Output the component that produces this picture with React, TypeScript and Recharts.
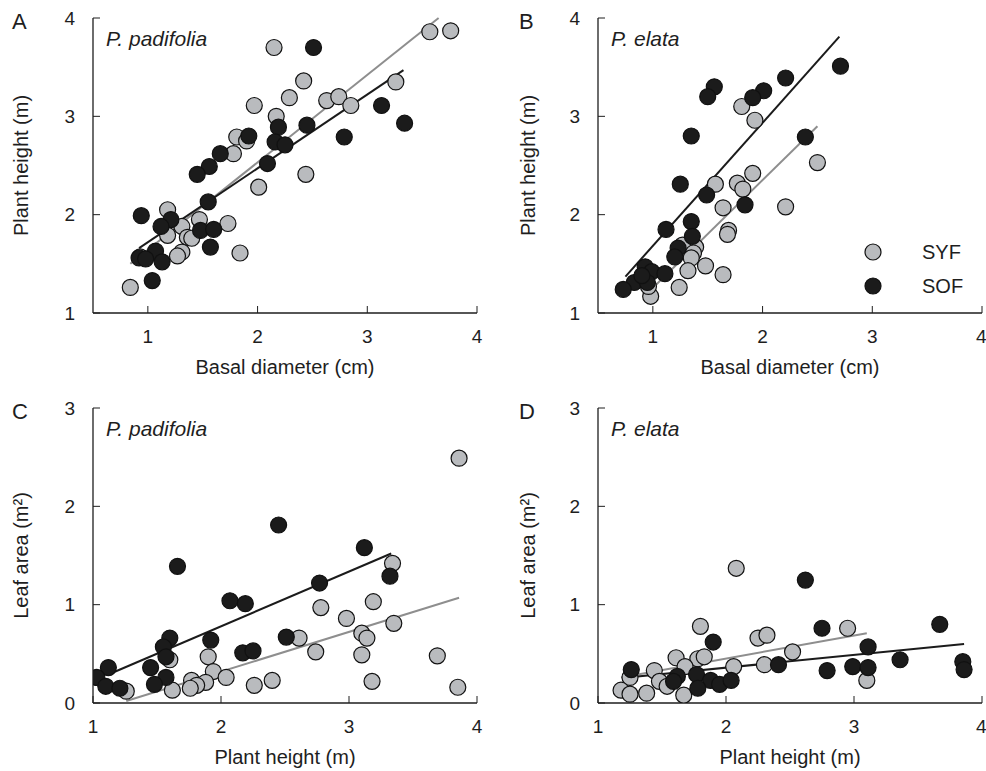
import React from "react"
import {
  ScatterChart,
  Scatter,
  XAxis,
  YAxis,
  ReferenceLine,
  Label,
  Legend,
} from "recharts"

type Pt = { x: number; y: number }
const pts = (rows: number[][]): Pt[] => rows.map(([x, y]) => ({ x, y }))

// A: P. padifolia, basal diameter (cm) vs plant height (m)
const padDiamSYF = pts([
  [2.15, 3.7], [2.42, 3.36], [2.29, 3.19], [1.97, 3.11], [2.17, 3.0], [2.63, 3.16],
  [2.74, 3.2], [2.85, 3.11], [3.26, 3.35], [3.57, 3.86], [3.76, 3.87], [1.81, 2.79],
  [1.9, 2.75], [1.78, 2.62], [2.44, 2.41], [2.01, 2.28], [1.18, 2.05], [1.47, 1.95],
  [1.73, 1.91], [1.31, 1.88], [1.18, 1.79], [1.36, 1.77], [1.4, 1.76], [1.31, 1.62],
  [1.27, 1.58], [1.84, 1.61], [0.84, 1.26], [0.93, 1.57],
])
const padDiamSOF = pts([
  [2.51, 3.7], [3.13, 3.11], [3.34, 2.93], [2.79, 2.79], [2.45, 2.91], [2.19, 2.89],
  [2.16, 2.74], [2.25, 2.71], [1.92, 2.8], [1.66, 2.62], [1.56, 2.49], [1.45, 2.41],
  [2.09, 2.52], [1.55, 2.13], [0.94, 1.99], [1.21, 1.95], [1.12, 1.88], [1.48, 1.84],
  [1.6, 1.85], [1.57, 1.67], [1.07, 1.63], [0.92, 1.56], [0.98, 1.55], [1.13, 1.52],
  [1.04, 1.33],
])
const padDiamFitSYF = pts([[0.84, 1.5], [3.65, 4.0]])
const padDiamFitSOF = pts([[0.92, 1.66], [3.33, 3.47]])

// B: P. elata, basal diameter (cm) vs plant height (m)
const elaDiamSYF = pts([
  [1.81, 3.1], [1.93, 2.96], [2.5, 2.53], [1.91, 2.42], [1.57, 2.31], [1.77, 2.32],
  [1.82, 2.26], [1.64, 2.07], [2.21, 2.08], [1.69, 1.84], [1.68, 1.8], [1.39, 1.67],
  [1.27, 1.69], [1.37, 1.61], [1.35, 1.56], [1.48, 1.48], [1.32, 1.43], [1.64, 1.39],
  [1.24, 1.26], [0.98, 1.17], [0.96, 1.27],
])
const elaDiamSOF = pts([
  [2.71, 3.51], [2.21, 3.39], [2.01, 3.26], [1.91, 3.19], [1.56, 3.3], [1.5, 3.2],
  [1.35, 2.8], [2.39, 2.79], [1.25, 2.31], [1.49, 2.2], [1.84, 2.1], [1.35, 1.93],
  [1.12, 1.85], [1.36, 1.78], [1.23, 1.66], [1.2, 1.57], [0.93, 1.47], [0.99, 1.42],
  [1.11, 1.4], [0.83, 1.31], [0.95, 1.31], [0.73, 1.24], [0.9, 1.38],
])
const elaDiamFitSYF = pts([[0.95, 1.2], [2.5, 2.9]])
const elaDiamFitSOF = pts([[0.75, 1.37], [2.7, 3.81]])

// C: P. padifolia, plant height (m) vs leaf area (m2)
const padLeafSYF = pts([
  [3.86, 2.49], [3.34, 1.42], [3.19, 1.03], [2.78, 0.97], [2.98, 0.86], [3.35, 0.81],
  [3.1, 0.71], [3.14, 0.66], [2.61, 0.66], [2.74, 0.52], [3.1, 0.49], [3.18, 0.22],
  [1.9, 0.47], [1.6, 0.44], [1.94, 0.32], [2.04, 0.26], [1.88, 0.21], [1.77, 0.23],
  [1.81, 0.18], [1.76, 0.15], [1.62, 0.13], [2.26, 0.18], [2.4, 0.23], [1.26, 0.12],
  [3.69, 0.48], [3.85, 0.16],
])
const padLeafSOF = pts([
  [2.45, 1.81], [3.12, 1.58], [1.66, 1.39], [2.77, 1.22], [3.32, 1.29], [2.07, 1.04],
  [2.19, 1.01], [1.92, 0.64], [2.51, 0.67], [2.17, 0.51], [2.25, 0.53], [1.6, 0.66],
  [1.55, 0.57], [1.57, 0.47], [1.45, 0.36], [1.57, 0.26], [1.48, 0.19], [1.12, 0.36],
  [1.03, 0.26], [1.1, 0.17], [1.21, 0.15],
])
const padLeafFitSYF = pts([[1.26, 0.02], [3.86, 1.07]])
const padLeafFitSOF = pts([[1.12, 0.29], [3.33, 1.52]])

// D: P. elata, plant height (m) vs leaf area (m2)
const elaLeafSYF = pts([
  [2.08, 1.37], [1.8, 0.78], [2.95, 0.76], [2.25, 0.66], [2.32, 0.69], [2.52, 0.52],
  [1.61, 0.46], [1.78, 0.45], [1.83, 0.47], [1.68, 0.37], [2.06, 0.37], [2.3, 0.39],
  [1.44, 0.33], [1.25, 0.26], [1.48, 0.22], [1.54, 0.17], [1.18, 0.13], [1.25, 0.09],
  [1.38, 0.1], [1.67, 0.08], [3.1, 0.23],
])
const elaLeafSOF = pts([
  [2.62, 1.25], [2.75, 0.76], [1.9, 0.62], [3.11, 0.57], [3.36, 0.44], [2.41, 0.39],
  [2.99, 0.37], [3.11, 0.36], [2.79, 0.33], [1.26, 0.34], [1.62, 0.27], [1.77, 0.29],
  [1.59, 0.22], [1.88, 0.23], [1.95, 0.19], [2.04, 0.23], [1.78, 0.15], [3.67, 0.8],
  [3.85, 0.42], [3.86, 0.34],
])
const elaLeafFitSYF = pts([[1.18, 0.26], [3.1, 0.71]])
const elaLeafFitSOF = pts([[1.23, 0.26], [3.86, 0.6]])

const diamTicks = [1, 2, 3, 4]
const heightTicks = [1, 2, 3, 4]
const leafTicks = [0, 1, 2, 3]
const legendOrder = ["SYF", "SOF"]

const FONT = "'Liberation Sans', Arial, Helvetica, sans-serif"
const INK = "#1e1e1e"
const GRAY = "#b9bbbe"
const BLACK = "#1b1b1b"
const GRAY_LINE = "#8e8e8e"

const dot = (fill: string) => (props: any) => (
  <circle cx={props.cx} cy={props.cy} r={8} fill={fill} stroke="#111" strokeWidth={1.2} />
)

const tickStyle = { fontSize: 19, fill: INK, fontFamily: FONT }
const titleStyle = { fontSize: 20, fill: INK, fontFamily: FONT, textAnchor: "middle" as const }

function LegendBox({ payload }: any) {
  const items = [...(payload || [])].sort(
    (a: any, b: any) => legendOrder.indexOf(a.value) - legendOrder.indexOf(b.value)
  )
  return (
    <div style={{ fontFamily: FONT, fontSize: 20, color: INK }}>
      {items.map((e: any) => (
        <div key={e.value} style={{ display: "flex", alignItems: "center", height: 34 }}>
          <svg width={18} height={18} style={{ marginRight: 40 }}>
            <circle cx={9} cy={9} r={8} fill={e.color} stroke="#111" strokeWidth={1.2} />
          </svg>
          {e.value}
        </div>
      ))}
    </div>
  )
}

interface PanelProps {
  left: number
  top: number
  width: number
  yAxisWidth: number
  letter: string
  letterX: number
  species: string
  xDomain: [number, number]
  xTicks: number[]
  yDomain: [number, number]
  yTicks: number[]
  xTitle: string
  yTitle: string
  yTitleX: number
  syf: Pt[]
  sof: Pt[]
  syfFit: Pt[]
  sofFit: Pt[]
  legend?: boolean
}

function Panel(p: PanelProps) {
  const marginRight = p.width - p.yAxisWidth - 384
  return (
    <div style={{ position: "absolute", left: p.left, top: p.top, width: p.width, height: 390 }}>
      <div
        style={{
          position: "absolute",
          left: p.letterX,
          top: 9,
          fontFamily: FONT,
          fontSize: 22,
          color: INK,
        }}
      >
        {p.letter}
      </div>
      <div
        style={{
          position: "absolute",
          left: p.yAxisWidth + 13,
          top: 27,
          fontFamily: FONT,
          fontSize: 21,
          fontStyle: "italic",
          color: INK,
          zIndex: 2,
        }}
      >
        {p.species}
      </div>
      <ScatterChart
        width={p.width}
        height={390}
        margin={{ top: 18, right: marginRight, bottom: 0, left: 0 }}
      >
        <XAxis
          type="number"
          dataKey="x"
          domain={p.xDomain}
          ticks={p.xTicks}
          allowDataOverflow
          height={77}
          tickSize={-7}
          tickMargin={24}
          tick={tickStyle}
          tickLine={{ stroke: INK }}
          axisLine={{ stroke: INK, strokeWidth: 1.3 }}
        >
          <Label value={p.xTitle} position="insideTop" offset={47} style={titleStyle} />
        </XAxis>
        <YAxis
          type="number"
          dataKey="y"
          domain={p.yDomain}
          ticks={p.yTicks}
          allowDataOverflow
          width={p.yAxisWidth}
          tickSize={-7}
          tickMargin={25}
          tick={tickStyle}
          tickLine={{ stroke: INK }}
          axisLine={{ stroke: INK, strokeWidth: 1.3 }}
        >
          <Label
            value={p.yTitle}
            angle={-90}
            position="insideLeft"
            offset={p.yTitleX}
            style={titleStyle}
          />
        </YAxis>
        <XAxis
          xAxisId="top"
          orientation="top"
          type="number"
          domain={p.xDomain}
          height={0}
          tick={false}
          tickLine={false}
          axisLine={{ stroke: INK, strokeWidth: 1.3 }}
        />
        <YAxis
          yAxisId="right"
          orientation="right"
          type="number"
          domain={p.yDomain}
          width={0}
          tick={false}
          tickLine={false}
          axisLine={{ stroke: INK, strokeWidth: 1.3 }}
        />
        <Scatter name="SYF" data={p.syf} fill={GRAY} shape={dot(GRAY)} isAnimationActive={false} />
        <Scatter name="SOF" data={p.sof} fill={BLACK} shape={dot(BLACK)} isAnimationActive={false} />
        <ReferenceLine
          segment={p.syfFit}
          stroke={GRAY_LINE}
          strokeWidth={2}
          ifOverflow="visible"
        />
        <ReferenceLine segment={p.sofFit} stroke={BLACK} strokeWidth={2} ifOverflow="visible" />
        {p.legend && (
          <Legend
            layout="horizontal"
            verticalAlign="middle"
            align="center"
            content={<LegendBox />}
            wrapperStyle={{ left: 364, top: 235, width: 120, height: 70 }}
          />
        )}
      </ScatterChart>
    </div>
  )
}

export default function App() {
  return (
    <div style={{ position: "absolute", left: 0, top: 0, width: 986, height: 771, background: "#fff" }}>
      <Panel
        left={0}
        top={0}
        width={490}
        yAxisWidth={93}
        letter="A"
        letterX={12}
        species="P. padifolia"
        xDomain={[0.5, 4]}
        xTicks={diamTicks}
        yDomain={[1, 4]}
        yTicks={heightTicks}
        xTitle="Basal diameter (cm)"
        yTitle="Plant height (m)"
        yTitleX={21}
        syf={padDiamSYF}
        sof={padDiamSOF}
        syfFit={padDiamFitSYF}
        sofFit={padDiamFitSOF}
      />
      <Panel
        left={500}
        top={0}
        width={486}
        yAxisWidth={98}
        letter="B"
        letterX={19}
        species="P. elata"
        xDomain={[0.5, 4]}
        xTicks={diamTicks}
        yDomain={[1, 4]}
        yTicks={heightTicks}
        xTitle="Basal diameter (cm)"
        yTitle="Plant height (m)"
        yTitleX={28}
        syf={elaDiamSYF}
        sof={elaDiamSOF}
        syfFit={elaDiamFitSYF}
        sofFit={elaDiamFitSOF}
        legend
      />
      <Panel
        left={0}
        top={390}
        width={490}
        yAxisWidth={93}
        letter="C"
        letterX={12}
        species="P. padifolia"
        xDomain={[1, 4]}
        xTicks={heightTicks}
        yDomain={[0, 3]}
        yTicks={leafTicks}
        xTitle="Plant height (m)"
        yTitle="Leaf area (m²)"
        yTitleX={21}
        syf={padLeafSYF}
        sof={padLeafSOF}
        syfFit={padLeafFitSYF}
        sofFit={padLeafFitSOF}
      />
      <Panel
        left={500}
        top={390}
        width={486}
        yAxisWidth={98}
        letter="D"
        letterX={19}
        species="P. elata"
        xDomain={[1, 4]}
        xTicks={heightTicks}
        yDomain={[0, 3]}
        yTicks={leafTicks}
        xTitle="Plant height (m)"
        yTitle="Leaf area (m²)"
        yTitleX={28}
        syf={elaLeafSYF}
        sof={elaLeafSOF}
        syfFit={elaLeafFitSYF}
        sofFit={elaLeafFitSOF}
      />
    </div>
  )
}
